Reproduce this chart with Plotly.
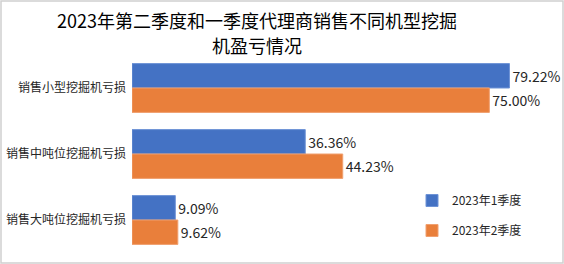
import plotly.graph_objects as go

categories = ["销售小型挖掘机亏损", "销售中吨位挖掘机亏损", "销售大吨位挖掘机亏损"]
q1_values = [79.22, 36.36, 9.09]
q2_values = [75.00, 44.23, 9.62]
series_names = ["2023年1季度", "2023年2季度"]
title_lines = ["2023年第二季度和一季度代理商销售不同机型挖掘", "机盈亏情况"]

font_family = "Noto Sans CJK SC, Noto Sans, sans-serif"
W, H = 564, 264
L, R, T, B = 132, 27, 55, 11
PW, PH = W - L - R, H - T - B

fig = go.Figure()
fig.add_trace(go.Bar(
    y=categories, x=q1_values, orientation="h", name=series_names[0],
    marker=dict(color="#4472C4", line=dict(color="#6E93D6", width=1)),
    text=[f"{v:.2f}%" for v in q1_values], textposition="outside",
    textfont=dict(size=14, color="#262626", family=font_family),
    cliponaxis=False, legendgroup="a",
))
fig.add_trace(go.Bar(
    y=categories, x=q2_values, orientation="h", name=series_names[1],
    marker=dict(color="#E97F3B", line=dict(color="#F0A070", width=1)),
    text=[f"{v:.2f}%" for v in q2_values], textposition="outside",
    textfont=dict(size=14, color="#262626", family=font_family),
    cliponaxis=False, legendgroup="b",
))

fig.update_layout(
    width=W, height=H,
    margin=dict(l=L, r=R, t=T, b=B, autoexpand=False),
    paper_bgcolor="white", plot_bgcolor="white",
    barmode="group", bargap=0.26, bargroupgap=0,
    font=dict(family=font_family, color="#262626"),
    xaxis=dict(range=[0, 85], visible=False, fixedrange=True, automargin=False),
    yaxis=dict(autorange="reversed", showline=False, showgrid=False, ticks="",
               automargin=False, ticklabelstandoff=5,
               tickfont=dict(size=12, color="#262626", family=font_family)),
    legend=dict(x=(412 - L) / PW, y=1 - (186 - T) / PH, xanchor="left", yanchor="top",
                font=dict(size=12, color="#262626", family=font_family),
                tracegroupgap=11, itemwidth=30, bgcolor="rgba(0,0,0,0)"),
    showlegend=True,
)
for line, ypx in zip(title_lines, [20, 45]):
    fig.add_annotation(text=line, xref="paper", yref="paper",
                       x=(257 - L) / PW, y=1 + (T - ypx) / PH, xanchor="center", yanchor="middle",
                       showarrow=False, align="center",
                       font=dict(size=18, color="#000000", family=font_family))
fig.add_shape(type="rect", xref="paper", yref="paper",
              x0=(1 - L) / PW, x1=1 + (R - 1) / PW, y0=(1 - B) / PH, y1=1 + (T - 1) / PH,
              line=dict(color="#D0D0D0", width=1.5))

fig.write_html("out.html")
